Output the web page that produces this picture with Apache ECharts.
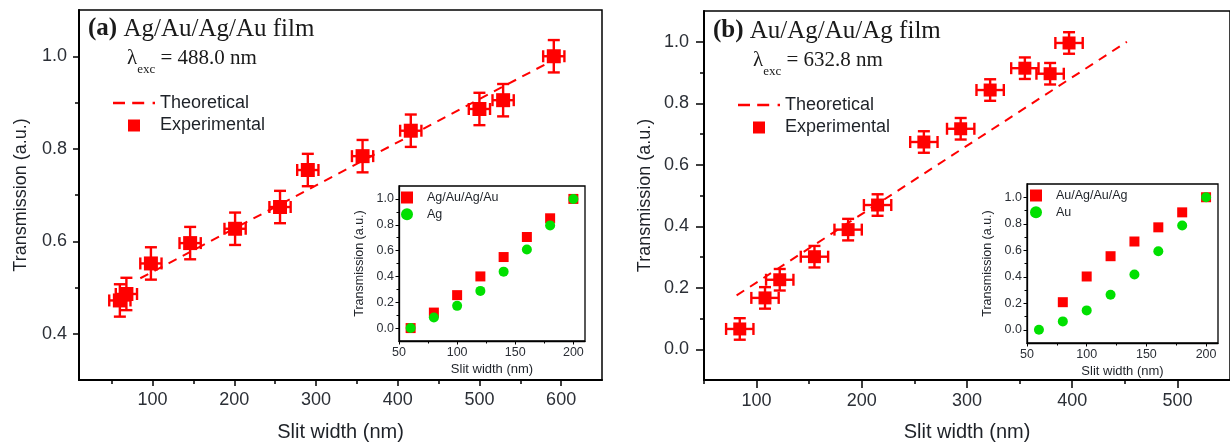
<!DOCTYPE html>
<html><head><meta charset="utf-8">
<script src="https://cdn.jsdelivr.net/npm/echarts@6/dist/echarts.min.js"></script>
<style>html,body{margin:0;padding:0;background:#fff}#c{width:1230px;height:447px}</style>
</head><body><div id="c"></div>
<script>
// ---------- Panel (a): Ag/Au/Ag/Au film, 488.0 nm ----------
const slitA  = [60, 68, 98, 146, 201, 256, 290, 357, 416, 500, 529, 591];
const transA = [0.472, 0.486, 0.552, 0.596, 0.627, 0.674, 0.754, 0.784, 0.839, 0.886, 0.905, 1.0];
const slitErrA = 13;      // nm
const transErrA = 0.035;  // a.u.
const theoSlitA  = [85, 595];
const theoTransA = [0.52, 0.996];

// ---------- Panel (b): Au/Ag/Au/Ag film, 632.8 nm ----------
const slitB  = [84, 108, 122, 155, 187, 215, 259, 294, 322, 355, 379, 397];
const transB = [0.066, 0.167, 0.226, 0.301, 0.389, 0.469, 0.674, 0.717, 0.843, 0.914, 0.896, 0.996];
const slitErrB = 13;
const transErrB = 0.035;
const theoSlitB  = [81, 452];
const theoTransB = [0.175, 1.0];

// ---------- Insets ----------
const insetSlit       = [60, 80, 100, 120, 140, 160, 180, 200];
const insetAFilm      = [0, 0.12, 0.255, 0.40, 0.55, 0.705, 0.85, 1.0];
const insetAAg        = [0, 0.082, 0.172, 0.288, 0.437, 0.608, 0.795, 1.0];
const insetBFilmSlit  = [80, 100, 120, 140, 160, 180, 200];
const insetBFilm      = [0.208, 0.402, 0.555, 0.666, 0.773, 0.886, 1.0];
const insetBAu        = [0, 0.063, 0.146, 0.264, 0.417, 0.593, 0.787, 1.0];

// ---------- Tick values ----------
const xMajorA = [100, 200, 300, 400, 500, 600];
const xMinorA = [50, 150, 250, 350, 450, 550];
const yMajorA = [0.4, 0.6, 0.8, 1.0];
const yMinorA = [0.5, 0.7, 0.9];
const xMajorB = [100, 200, 300, 400, 500];
const xMinorB = [50, 150, 250, 350, 450];
const yMajorB = [0.0, 0.2, 0.4, 0.6, 0.8, 1.0];
const yMinorB = [0.1, 0.3, 0.5, 0.7, 0.9];
const xMajorInset = [50, 100, 150, 200];
const xMinorInset = [75, 125, 175];
const yMajorInset = [0.0, 0.2, 0.4, 0.6, 0.8, 1.0];
const yMinorInset = [0.1, 0.3, 0.5, 0.7, 0.9];

// ---------- Texts ----------
const titleA = ['(a)', ' Ag/Au/Ag/Au film'];
const titleB = ['(b)', ' Au/Ag/Au/Ag film'];
const lambdaA = ' = 488.0 nm';
const lambdaB = ' = 632.8 nm';
const xName = 'Slit width (nm)';
const yName = 'Transmission (a.u.)';
const legMain = ['Theoretical', 'Experimental'];
const legInsetA = ['Ag/Au/Ag/Au', 'Ag'];
const legInsetB = ['Au/Ag/Au/Ag', 'Au'];

const RED = '#ff0000';
const GREEN = '#00e000';
const SANS = 'Liberation Sans';
const SERIF = 'Liberation Serif';
const TXT = '#2b2f36';
const SQUARE = 'path://M0,0H10V10H0Z';
const DASHES = 'path://M0,0H10V2H0Z M16,0H26V2H16Z M33,0H35V2H33Z';

const zip = (a, b) => a.map((v, i) => [v, b[i]]);
const zipErr = (a, b, ea, eb) => a.map((v, i) => [v, b[i], ea, eb]);

function axisPair(kind, gridIndex, min, max, major, minor, o) {
  const majorAxis = {
    type: 'value', gridIndex, min, max, position: kind === 'x' ? 'bottom' : 'left',
    axisLine: { show: true, onZero: false, lineStyle: { color: '#000', width: o.lw } },
    axisTick: { show: true, inside: false, length: o.tick, customValues: major, lineStyle: { color: '#000', width: o.tw } },
    axisLabel: { show: true, customValues: major, margin: o.margin, fontSize: o.fs, color: TXT, fontFamily: SANS, formatter: o.fmt },
    splitLine: { show: false },
    name: o.name, nameLocation: 'middle', nameGap: o.nameGap,
    nameTextStyle: { fontFamily: SANS, fontSize: o.nameFs, color: '#1e2228' }
  };
  const minorAxis = {
    type: 'value', gridIndex, min, max, position: kind === 'x' ? 'bottom' : 'left', offset: 0,
    axisLine: { show: false, onZero: false },
    axisTick: { show: true, inside: false, length: o.minorTick, customValues: minor, lineStyle: { color: '#000', width: o.tw } },
    axisLabel: { show: false },
    splitLine: { show: false }
  };
  return [majorAxis, minorAxis];
}

const fmtY = v => Number(v).toFixed(1);
const fmtX = v => String(Math.round(v));

const xAxes = [].concat(
  axisPair('x', 0, 10, 650, xMajorA, xMinorA, { lw: 2, tw: 1.5, tick: 6, minorTick: 4, margin: 11, fs: 18, fmt: fmtX, name: xName, nameGap: 42, nameFs: 20 }),
  axisPair('x', 1, 50, 210, xMajorInset, xMinorInset, { lw: 1.3, tw: 1, tick: 3.5, minorTick: 2.5, margin: 5, fs: 12.5, fmt: fmtX, name: xName, nameGap: 22, nameFs: 13 }),
  axisPair('x', 2, 50, 550, xMajorB, xMinorB, { lw: 2, tw: 1.5, tick: 8, minorTick: 4, margin: 12, fs: 18, fmt: fmtX, name: xName, nameGap: 42, nameFs: 20 }),
  axisPair('x', 3, 50, 210, xMajorInset, xMinorInset, { lw: 1.3, tw: 1, tick: 3.5, minorTick: 2.5, margin: 5, fs: 12.5, fmt: fmtX, name: xName, nameGap: 22, nameFs: 13 })
);
const yAxes = [].concat(
  axisPair('y', 0, 0.3, 1.1, yMajorA, yMinorA, { lw: 2, tw: 1.5, tick: 6, minorTick: 4, margin: 12, fs: 18, fmt: fmtY, name: yName, nameGap: 49, nameFs: 18 }),
  axisPair('y', 1, -0.1, 1.1, yMajorInset, yMinorInset, { lw: 1.3, tw: 1, tick: 3.5, minorTick: 2.5, margin: 5, fs: 12.5, fmt: fmtY, name: yName, nameGap: 33, nameFs: 12.5 }),
  axisPair('y', 2, -0.1, 1.1, yMajorB, yMinorB, { lw: 2, tw: 1.5, tick: 8, minorTick: 4, margin: 15, fs: 18, fmt: fmtY, name: yName, nameGap: 50, nameFs: 18 }),
  axisPair('y', 3, -0.1, 1.1, yMajorInset, yMinorInset, { lw: 1.3, tw: 1, tick: 3.5, minorTick: 2.5, margin: 5, fs: 12.5, fmt: fmtY, name: yName, nameGap: 33, nameFs: 12.5 })
);

function errRender(params, api) {
  const x = api.value(0), y = api.value(1), ex = api.value(2), ey = api.value(3);
  const t = api.coord([x, y + ey]), b = api.coord([x, y - ey]);
  const l = api.coord([x - ex, y]), r = api.coord([x + ex, y]);
  const cap = 6;
  const st = { stroke: RED, lineWidth: 2.4, fill: null };
  const ln = (x1, y1, x2, y2) => ({ type: 'line', shape: { x1, y1, x2, y2 }, style: st });
  return {
    type: 'group',
    children: [
      ln(t[0], t[1], b[0], b[1]),
      ln(t[0] - cap, t[1], t[0] + cap, t[1]),
      ln(b[0] - cap, b[1], b[0] + cap, b[1]),
      ln(l[0], l[1], r[0], r[1]),
      ln(l[0], l[1] - cap, l[0], l[1] + cap),
      ln(r[0], r[1] - cap, r[0], r[1] + cap)
    ]
  };
}

function mainSeries(xi, yi, sx, sy, ex, ey, tx, ty, size) {
  return [
    { type: 'line', name: 'Theoretical', xAxisIndex: xi, yAxisIndex: yi, data: zip(tx, ty), symbol: 'none',
      lineStyle: { color: RED, width: 2, type: [9, 7] }, itemStyle: { color: RED }, z: 2, silent: true, animation: false },
    { type: 'custom', xAxisIndex: xi, yAxisIndex: yi, data: zipErr(sx, sy, ex, ey), renderItem: errRender, z: 3, silent: true, animation: false },
    { type: 'scatter', name: 'Experimental', xAxisIndex: xi, yAxisIndex: yi, data: zip(sx, sy), symbol: 'rect', symbolSize: size,
      itemStyle: { color: RED, opacity: 1 }, z: 4, silent: true, animation: false }
  ];
}
function insetSeries(xi, yi, redX, redY, grX, grY, redName, grName) {
  return [
    { type: 'scatter', name: redName, xAxisIndex: xi, yAxisIndex: yi, data: zip(redX, redY), symbol: 'rect', symbolSize: 10,
      itemStyle: { color: RED, opacity: 1 }, z: 5, silent: true, animation: false },
    { type: 'scatter', name: grName, xAxisIndex: xi, yAxisIndex: yi, data: zip(grX, grY), symbol: 'circle', symbolSize: 10,
      itemStyle: { color: GREEN, opacity: 1 }, z: 6, silent: true, animation: false }
  ];
}

const series = [].concat(
  mainSeries(0, 0, slitA, transA, slitErrA, transErrA, theoSlitA, theoTransA, 14),
  insetSeries(2, 2, insetSlit, insetAFilm, insetSlit, insetAAg, legInsetA[0], legInsetA[1]),
  mainSeries(4, 4, slitB, transB, slitErrB, transErrB, theoSlitB, theoTransB, 13),
  insetSeries(6, 6, insetBFilmSlit, insetBFilm, insetSlit, insetBAu, legInsetB[0], legInsetB[1])
);

function mainLegend(left, top) {
  return { orient: 'vertical', left, top, padding: 0, itemWidth: 42, itemHeight: 12, itemGap: 4.5,
    selectedMode: false, itemStyle: { opacity: 1 },
    textStyle: { fontFamily: SANS, fontSize: 18, lineHeight: 18, color: '#1e2228' },
    data: [{ name: legMain[0], icon: DASHES }, { name: legMain[1], icon: SQUARE }] };
}
function insetLegend(left, top, names) {
  return { orient: 'vertical', left, top, padding: 0, itemWidth: 30, itemHeight: 12, itemGap: 3.8,
    selectedMode: false, itemStyle: { opacity: 1 },
    textStyle: { fontFamily: SANS, fontSize: 12.5, lineHeight: 13, color: '#1e2228' },
    data: [{ name: names[0], icon: SQUARE }, { name: names[1], icon: 'circle' }] };
}

function titleText(left, top, parts) {
  return { left, top, padding: 0, text: '{b|' + parts[0] + '}{n|' + parts[1] + '}',
    textStyle: { fontWeight: 'normal', rich: {
      b: { fontFamily: SERIF, fontWeight: 'bold', fontSize: 25, lineHeight: 26, color: '#1a1a1a' },
      n: { fontFamily: SERIF, fontWeight: 'normal', fontSize: 25, lineHeight: 26, color: '#1a1a1a' } } } };
}
function lambdaText(left, top, rest) {
  return { left, top, padding: 0, text: '{m|λ}{s|exc}{m|' + rest + '}',
    textStyle: { fontWeight: 'normal', rich: {
      m: { fontFamily: SERIF, fontWeight: 'normal', fontSize: 21, lineHeight: 22, verticalAlign: 'top', color: '#1a1a1a' },
      s: { fontFamily: SERIF, fontWeight: 'normal', fontSize: 13, lineHeight: 12, padding: [15, 0, 0, 0], verticalAlign: 'top', color: '#1a1a1a' } } } };
}

const gridStyle = { show: true, borderColor: '#000', containLabel: false };
const option = {
  animation: false,
  backgroundColor: '#fff',
  title: [titleText(88, 16, titleA), lambdaText(127, 48, lambdaA), titleText(713, 18, titleB), lambdaText(753, 50, lambdaB)],
  legend: [mainLegend(113, 94), insetLegend(401, 191, legInsetA), mainLegend(738, 96), insetLegend(1030, 189, legInsetB)],
  grid: [
    Object.assign({ left: 79, top: 10, width: 523, height: 373, borderWidth: 1.5, backgroundColor: 'transparent' }, gridStyle),
    Object.assign({ left: 399, top: 186, width: 186, height: 155, borderWidth: 1.3, backgroundColor: '#fff' }, gridStyle),
    Object.assign({ left: 704, top: 11, width: 529, height: 373, borderWidth: 1.5, backgroundColor: 'transparent' }, gridStyle),
    Object.assign({ left: 1027, top: 184, width: 191, height: 159, borderWidth: 1.3, backgroundColor: '#fff' }, gridStyle)
  ],
  xAxis: xAxes,
  yAxis: yAxes,
  series
};
const chart = echarts.init(document.getElementById('c'), null, { renderer: 'canvas' });
chart.setOption(option);
</script></body></html>
